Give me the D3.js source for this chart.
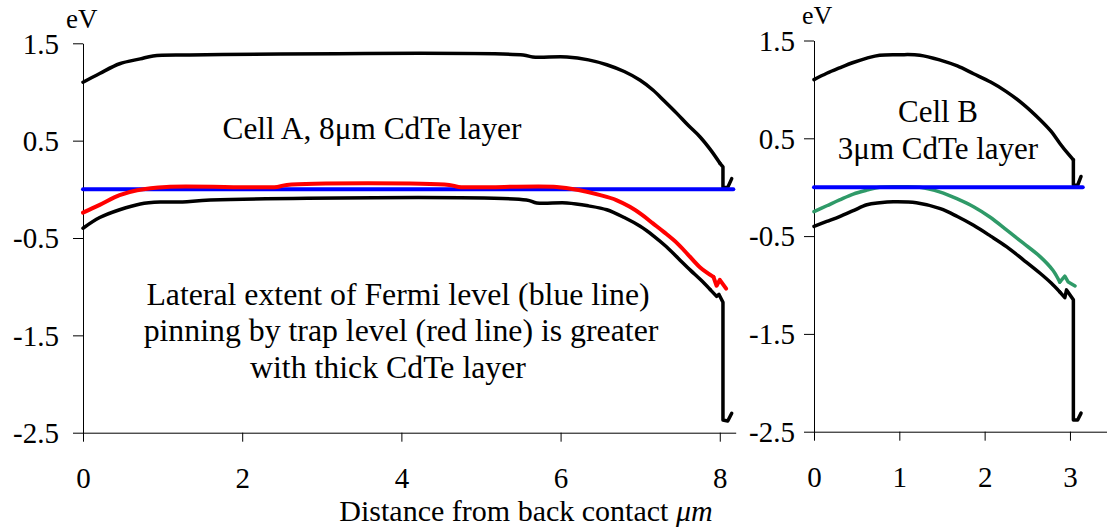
<!DOCTYPE html>
<html>
<head>
<meta charset="utf-8">
<script src="https://cdn.jsdelivr.net/npm/d3@7"></script>
<style>
  html, body { margin: 0; padding: 0; background: #fff; }
  svg { display: block; }
</style>
</head>
<body>
<script>
// ---- Data ----
// Cell A (8 µm)
const xA_cb = [0, 0.21, 0.46, 0.72, 0.88, 1.34, 5.53, 5.65, 6.08, 6.35, 6.58, 6.8, 7.0, 7.16, 7.3, 7.46, 7.6, 7.75, 7.88, 8.0, 8.04, 8.04, 8.1, 8.15];
const vA_cb = [1.10, 1.19, 1.29, 1.34, 1.37, 1.38, 1.38, 1.36, 1.36, 1.33, 1.28, 1.21, 1.12, 1.02, 0.91, 0.78, 0.66, 0.54, 0.41, 0.27, 0.23, 0.02, 0.02, 0.11];
const xA_trap = [0, 0.21, 0.46, 0.68, 1.05, 2.44, 2.56, 4.6, 4.72, 5.95, 6.24, 6.5, 6.7, 6.87, 7.02, 7.16, 7.3, 7.46, 7.6, 7.75, 7.92, 7.96, 8.0, 8.08];
const vA_trap = [-0.24, -0.16, -0.06, -0.01, 0.025, 0.025, 0.045, 0.045, 0.025, 0.025, -0.01, -0.06, -0.11, -0.18, -0.26, -0.35, -0.44, -0.55, -0.67, -0.80, -0.90, -0.99, -0.93, -1.02];
const xA_vb = [0, 0.21, 0.46, 0.72, 0.97, 1.25, 1.6, 5.57, 5.7, 6.08, 6.35, 6.58, 6.8, 7.0, 7.17, 7.33, 7.48, 7.63, 7.76, 7.88, 7.96, 7.99, 8.04, 8.04, 8.1, 8.15];
const vA_vb = [-0.40, -0.29, -0.21, -0.15, -0.13, -0.13, -0.11, -0.11, -0.14, -0.14, -0.17, -0.21, -0.29, -0.38, -0.48, -0.59, -0.71, -0.83, -0.93, -1.03, -1.10, -1.08, -1.16, -2.37, -2.38, -2.30];
const xA_fermi = [0, 8.17];
const vA_fermi = [0, 0];

// Cell B (3 µm)
const xB_cb = [0, 0.15, 0.30, 0.46, 0.62, 0.77, 1.0, 1.24, 1.48, 1.68, 1.87, 2.07, 2.25, 2.45, 2.65, 2.78, 2.88, 2.97, 3.04, 3.04, 3.09, 3.13];
const vB_cb = [1.10, 1.165, 1.22, 1.275, 1.32, 1.35, 1.355, 1.35, 1.30, 1.24, 1.16, 1.075, 0.98, 0.85, 0.69, 0.57, 0.45, 0.35, 0.28, 0.02, 0.02, 0.11];
const xB_trap = [0, 0.15, 0.30, 0.46, 0.62, 0.77, 1.0, 1.24, 1.48, 1.68, 1.87, 2.07, 2.26, 2.45, 2.65, 2.80, 2.88, 2.94, 2.98, 3.06];
const vB_trap = [-0.25, -0.19, -0.13, -0.07, -0.03, 0.0, 0.005, 0.0, -0.05, -0.12, -0.20, -0.31, -0.44, -0.57, -0.71, -0.85, -0.97, -0.91, -0.97, -1.01];
const xB_vb = [0, 0.15, 0.30, 0.46, 0.62, 0.77, 0.93, 1.2, 1.48, 1.68, 1.87, 2.07, 2.26, 2.45, 2.65, 2.78, 2.88, 2.94, 2.96, 3.04, 3.04, 3.09, 3.13];
const vB_vb = [-0.40, -0.35, -0.30, -0.24, -0.18, -0.16, -0.15, -0.16, -0.22, -0.30, -0.39, -0.50, -0.61, -0.74, -0.88, -0.98, -1.07, -1.13, -1.05, -1.15, -2.38, -2.38, -2.31];
const xB_fermi = [0, 3.15];
const vB_fermi = [0, 0];

// Ticks
const yTicks = [1.5, 0.5, -0.5, -1.5, -2.5];
const xTicksA = [0, 2, 4, 6, 8];
const xTicksB = [0, 1, 2, 3];

// ---- Drawing ----
const W = 1107, H = 532;
const FONT = "'Liberation Serif', 'Times New Roman', Tinos, serif";
const svg = d3.select("body").append("svg").attr("width", W).attr("height", H)
  .style("font-family", FONT);

const xA = d3.scaleLinear().domain([0, 8.2]).range([83, 735.7]);
const yA = d3.scaleLinear().domain([1.5, -2.5]).range([43.3, 432.7]);
const xB = d3.scaleLinear().domain([0, 3.44]).range([814, 1107.5]);
const yB = d3.scaleLinear().domain([1.5, -2.5]).range([40.5, 431.7]);

const tickFont = 29;
const fmt = d => String(d);

function drawAxes(x, y, xticks, yPad) {
  const gx = svg.append("g").attr("transform", `translate(0,${y(-2.5)})`)
    .call(d3.axisBottom(x).tickValues(xticks).tickSize(9).tickSizeOuter(0).tickFormat(fmt));
  gx.attr("font-family", null).attr("font-size", null);
  gx.selectAll("text").attr("y", 55).attr("dy", null)
    .style("font-size", tickFont + "px").style("font-family", FONT).attr("fill", "#000");
  const gy = svg.append("g").attr("transform", `translate(${x(0)},0)`)
    .call(d3.axisLeft(y).tickValues(yTicks).tickSize(10).tickSizeOuter(0).tickPadding(yPad).tickFormat(fmt));
  gy.attr("font-family", null).attr("font-size", null);
  gy.selectAll("text").attr("dy", "0.34em").style("font-size", tickFont + "px")
    .style("font-family", FONT).attr("fill", "#000");
  svg.selectAll(".domain, .tick line").attr("stroke", "#000").attr("stroke-width", 1);
}

drawAxes(xA, yA, xTicksA, 14);
drawAxes(xB, yB, xTicksB, 9);

// smooth part up to index k (inclusive), straight segments after it
function drawLine(x, y, xs, vs, color, width, k) {
  const pts = xs.map((d, i) => [d, vs[i]]);
  const kk = (k === undefined) ? pts.length - 1 : k;
  const smooth = d3.line().x(d => x(d[0])).y(d => y(d[1])).curve(d3.curveCatmullRom.alpha(0.5));
  const straight = d3.line().x(d => x(d[0])).y(d => y(d[1]));
  const g = svg.append("g").attr("fill", "none").attr("stroke", color).attr("stroke-width", width)
    .attr("stroke-linejoin", "round").attr("stroke-linecap", "round");
  g.append("path").attr("d", smooth(pts.slice(0, kk + 1)));
  if (kk < pts.length - 1) g.append("path").attr("d", straight(pts.slice(kk)));
}

drawLine(xA, yA, xA_cb, vA_cb, "#000", 3.5, 19);
drawLine(xA, yA, xA_vb, vA_vb, "#000", 3.5, 19);
drawLine(xA, yA, xA_fermi, vA_fermi, "#0000ff", 4);
drawLine(xA, yA, xA_trap, vA_trap, "#ff0000", 4, 20);

drawLine(xB, yB, xB_cb, vB_cb, "#000", 3.5, 18);
drawLine(xB, yB, xB_vb, vB_vb, "#000", 3.5, 16);
drawLine(xB, yB, xB_trap, vB_trap, "#2f9a68", 3.5, 16);
drawLine(xB, yB, xB_fermi, vB_fermi, "#0000ff", 4);

// Texts
function txt(x, y, s, size, anchor) {
  return svg.append("text").attr("x", x).attr("y", y).attr("fill", "#000")
    .attr("text-anchor", anchor || "middle")
    .style("font-family", FONT).style("font-size", size + "px").text(s);
}
txt(66, 28, "eV", 27, "start");
txt(802, 24, "eV", 26, "start");
txt(372, 139, "Cell A, 8μm CdTe layer", 31.3);
txt(938, 122, "Cell B", 31);
txt(938, 159, "3μm CdTe layer", 31);
txt(398, 305, "Lateral extent of Fermi level (blue line)", 31.8);
txt(401, 341, "pinning by trap level (red line) is greater", 31.8);
txt(388, 378, "with thick CdTe layer", 31.8);

const xl = txt(526, 521, "", 30);
xl.append("tspan").text("Distance from back contact ");
xl.append("tspan").attr("font-style", "italic").text("μm");
</script>
</body>
</html>
